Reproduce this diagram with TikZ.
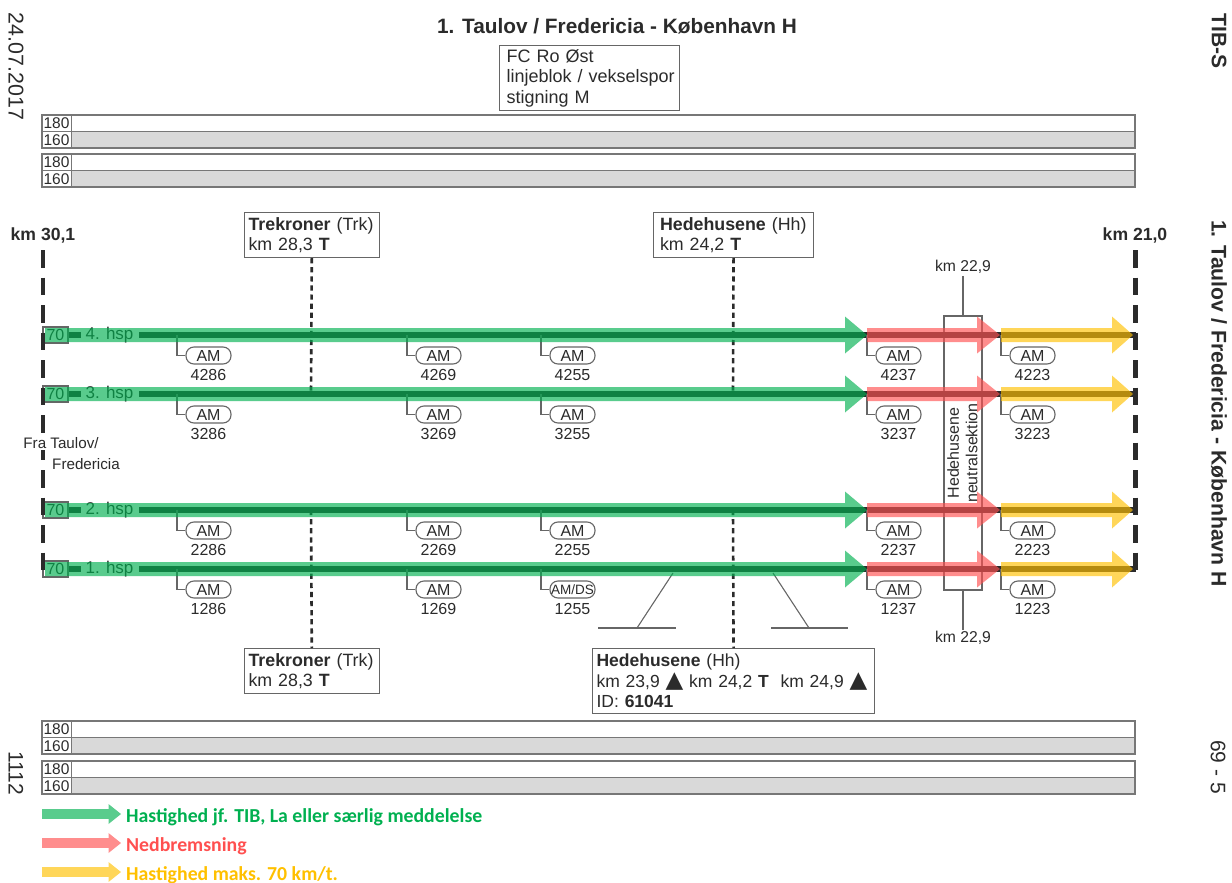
\documentclass[tikz,border=0pt]{standalone}
\usepackage{fontspec}
\setmainfont{Liberation Sans}
\newfontfamily\symfont{DejaVu Sans}
\newfontfamily\legfont{Carlito}
\usetikzlibrary{calc}
\definecolor{ink}{HTML}{2B2B2B}
\definecolor{rule}{HTML}{666666}
\definecolor{tabline}{HTML}{777777}
\definecolor{tabgrey}{HTML}{D9D9D9}
\definecolor{legG}{HTML}{00B050}
\definecolor{legR}{HTML}{FF5050}
\definecolor{legY}{HTML}{FFC000}
\newcommand{\fs}[1]{\fontsize{#1}{#1}\selectfont}
\newcommand{\fatarrow}[6]{%
  \fill[#1] let \p1=(#2),\p2=(#3) in (\x1,\y1+#4) -- (\x2-#6,\y1+#4) -- (\x2-#6,\y1+#5) -- (\x2,\y1)
    -- (\x2-#6,\y1-#5) -- (\x2-#6,\y1-#4) -- (\x1,\y1-#4) -- cycle;}
\newcommand{\tri}{\smash{\raisebox{-0.5pt}{\symfont\fontsize{23}{23}\selectfont ▲}}}
\tikzset{
  txt/.style={inner sep=0pt,text=ink},
  infobox/.style={draw=rule,line width=1.1pt,fill=white,anchor=north west,align=left,inner sep=0pt,text=ink,
     font=\fontsize{17.8}{19.5}\selectfont},
  pill/.style={draw=rule,line width=1.1pt,fill=white,rounded corners=8pt,minimum width=45pt,minimum height=17pt,
     inner sep=0pt,text=ink,font=\fs{16}},
  leader/.style={draw=rule,line width=1.1pt},
  stationdash/.style={draw=ink,line width=2.6pt,dash pattern=on 5.2pt off 3.9pt},
  enddash/.style={draw=ink,dash pattern=on 17.5pt off 10pt},
  hspbox/.style={draw=rule,line width=1.1pt,fill=white,minimum width=25pt,minimum height=16pt,inner sep=0pt,text=ink,font=\fs{16}},
  hsplabel/.style={fill=white,minimum width=58pt,minimum height=14pt,inner sep=0pt,text=ink,font=\fs{17}},
  greenarrow/.style={fill=legG,fill opacity=.65},
  redarrow/.style={fill=legR,fill opacity=.65},
  yellowarrow/.style={fill=legY,fill opacity=.65},
}
\begin{document}
\begin{tikzpicture}[x=1pt,y=-1pt]
\useasboundingbox (0,0) rectangle (1232,883);
% speed tables
\foreach \ty/\by in {115/148,154/187,721/754,761/794}{
  \pgfmathsetmacro{\my}{(\ty+\by)/2}
  \fill[white] (42,\ty) rectangle (1135,\my);
  \fill[tabgrey] (71,\my) rectangle (1135,\by);
  \draw[tabline,line width=1.2pt] (42,\ty) rectangle (1135,\by);
  \draw[tabline,line width=1.2pt] (42,\my) -- (1135,\my);
  \draw[tabline,line width=.8pt] (71,\ty) -- (71,\by);
  \node[txt,font=\fs{15.5}] at (56.5,\ty+8.6) {180};
  \node[txt,font=\fs{15.5}] at (56.5,\my+8.6) {160};
}
% titles and margin texts
\node[txt,font=\bfseries\fs{20.8}] (title) at (617,26) {1. Taulov / Fredericia - København H};
\node[txt,font=\fs{21.4},rotate=-90] (date) at (16,66.5) {24.07.2017};
\node[txt,font=\fs{21},rotate=-90] (page) at (16,773) {1112};
\node[txt,font=\bfseries\fs{21},rotate=-90] (tibs) at (1219,41) {TIB-S};
\node[txt,font=\bfseries\fs{21.2},rotate=-90] (route) at (1219,403.5) {1. Taulov / Fredericia - København H};
\node[txt,font=\fs{21},rotate=-90] (sheet) at (1218,767) {69 - 5};
\node[infobox,minimum width=180pt,minimum height=65pt,text width=166pt,font=\fontsize{18}{20.5}\selectfont] (fc) at (499,45) {FC Ro Øst\\\mbox{linjeblok / vekselspor}\\stigning M};
\node[txt,font=\bfseries\fs{17.6}] (kmL) at (43,235) {km 30,1};
\node[txt,font=\bfseries\fs{17.6}] (kmR) at (1135,235) {km 21,0};
% track coordinates
\foreach \t/\y in {4/335,3/394,2/510,1/569}{
  \coordinate (s\t) at (42,\y);
  \coordinate (a\t) at (45,\y);
  \coordinate (b\t) at (867,\y);
  \coordinate (c\t) at (1000,\y);
  \coordinate (d\t) at (1001,\y);
  \coordinate (e\t) at (1133,\y);
  \coordinate (f\t) at (1136,\y);
  \coordinate (gt\t) at (311,\y);
  \coordinate (ht\t) at (733,\y);
}
% station boxes and dashed lines
\node[infobox,minimum width=134.5pt,minimum height=45pt,text width=126.5pt] (trkT) at (244,212) {\textbf{Trekroner} (Trk)\\km 28,3 \textbf{T}};
\node[infobox,minimum width=160pt,minimum height=45pt,text width=147pt] (hhT) at (653,212) {\textbf{Hedehusene} (Hh)\\km 24,2 \textbf{T}};
\node[infobox,minimum width=134.5pt,minimum height=45pt,text width=126.5pt] (trkB) at (244,648) {\textbf{Trekroner} (Trk)\\km 28,3 \textbf{T}};
\node[infobox,minimum width=282pt,minimum height=65pt,text width=274pt,font=\fontsize{17.5}{20.5}\selectfont] (hhB) at (592,648) {\textbf{Hedehusene} (Hh)\\km 23,9 \tri\ km 24,2 \textbf{T}\ \ km 24,9 \tri\\ID: \textbf{61041}};
\draw[stationdash] (trkT.south) -- (gt3);
\draw[stationdash] (gt2) -- (trkB.north);
\draw[stationdash] (hhT.south) -- (ht3);
\draw[stationdash] (ht2) -- (hhB.north);
% neutral section
\node[draw=rule,line width=1.1pt,minimum width=38pt,minimum height=274pt,inner sep=0pt] (neut) at (963,453) {};
\node[txt,font=\fs{15.7}] (kmNt) at (963,267) {km 22,9};
\node[txt,font=\fs{15.7}] (kmNb) at (963,638) {km 22,9};
\draw[leader] (kmNt.south) ++(0,2) -- (neut.north);
\draw[leader] (neut.south) -- ($(kmNb.north)+(0,-1)$);
\node[txt,rotate=90,align=center,font=\fontsize{16}{18.5}\selectfont] (neutT) at (962.5,453) {Hedehusene\\neutralsektion};
% platforms
\coordinate (plA) at (673,573); \coordinate (plB) at (637,628);
\coordinate (plC) at (598,628); \coordinate (plD) at (676,628);
\coordinate (plE) at (773,573); \coordinate (plF) at (809,628);
\coordinate (plG) at (771,628); \coordinate (plH) at (848,628);
\draw[leader] (plA) -- (plB); \draw[leader] (plC) -- (plD);
\draw[leader] (plE) -- (plF); \draw[leader] (plG) -- (plH);
% tracks
\foreach \t in {4,3,2,1}{
  \draw[ink,line width=5.5pt] (s\t) -- (f\t);
  \node[hspbox] (v\t) at ($(s\t)+(13.5,0)$) {70};
  \node[hsplabel] (h\t) at ($(s\t)+(67.5,0)$) {\t. hsp};
}
% AM markers
\foreach \t/\y in {4/335,3/394,2/510,1/569}{
  \foreach \c/\x/\s in {1/177/286,2/407/269,3/541/255,4/867/237,5/1001/223}{
    \coordinate (m\t\c) at (\x,\y);
    \node[pill] (p\t\c) at (\x+31.5,\y+20.5) {\ifnum\t\c=13 {\fs{13.5}AM/DS}\else AM\fi};
    \draw[leader] (m\t\c) |- (p\t\c.west);
    \node[txt,font=\fs{16}] (n\t\c) at (\x+31.5,\y+40) {\t\s};
  }
}
% end-of-section dashed lines
\draw[enddash,line width=4pt] (42.5,250) -- (42.5,572);
\draw[enddash,line width=5pt] (1135,250) -- (1135,572);
\node[txt,fill=white,inner ysep=1pt,font=\fs{15.2}] (fra) at (61,443) {Fra Taulov/};
\node[txt,fill=white,inner ysep=1pt,font=\fs{15.2}] (fred) at (86,464) {Fredericia};
% coloured arrows
\foreach \t in {4,3,2,1}{
  \fatarrow{greenarrow}{a\t}{b\t}{7pt}{18.5pt}{22pt}
  \fatarrow{redarrow}{b\t}{c\t}{7pt}{18.5pt}{23pt}
  \fatarrow{yellowarrow}{d\t}{e\t}{7pt}{18.5pt}{21pt}
}
% legend
\coordinate (lg1) at (42,814); \coordinate (lg1e) at (121,814);
\coordinate (lg2) at (42,843); \coordinate (lg2e) at (121,843);
\coordinate (lg3) at (42,872); \coordinate (lg3e) at (121,872);
\fatarrow{greenarrow}{lg1}{lg1e}{4.8pt}{10pt}{12.5pt}
\fatarrow{redarrow}{lg2}{lg2e}{4.8pt}{10pt}{12.5pt}
\fatarrow{yellowarrow}{lg3}{lg3e}{4.8pt}{10pt}{12.5pt}
\node[inner sep=0pt,anchor=west,text=legG,font=\legfont\bfseries\fs{19.8}] (lt1) at (126,817) {Hastighed jf. TIB, La eller særlig meddelelse};
\node[inner sep=0pt,anchor=west,text=legR,font=\legfont\bfseries\fs{19.8}] (lt2) at (126,846) {Nedbremsning};
\node[inner sep=0pt,anchor=west,text=legY,font=\legfont\bfseries\fs{19.8}] (lt3) at (126,875) {Hastighed maks. 70 km/t.};
\end{tikzpicture}
\end{document}
